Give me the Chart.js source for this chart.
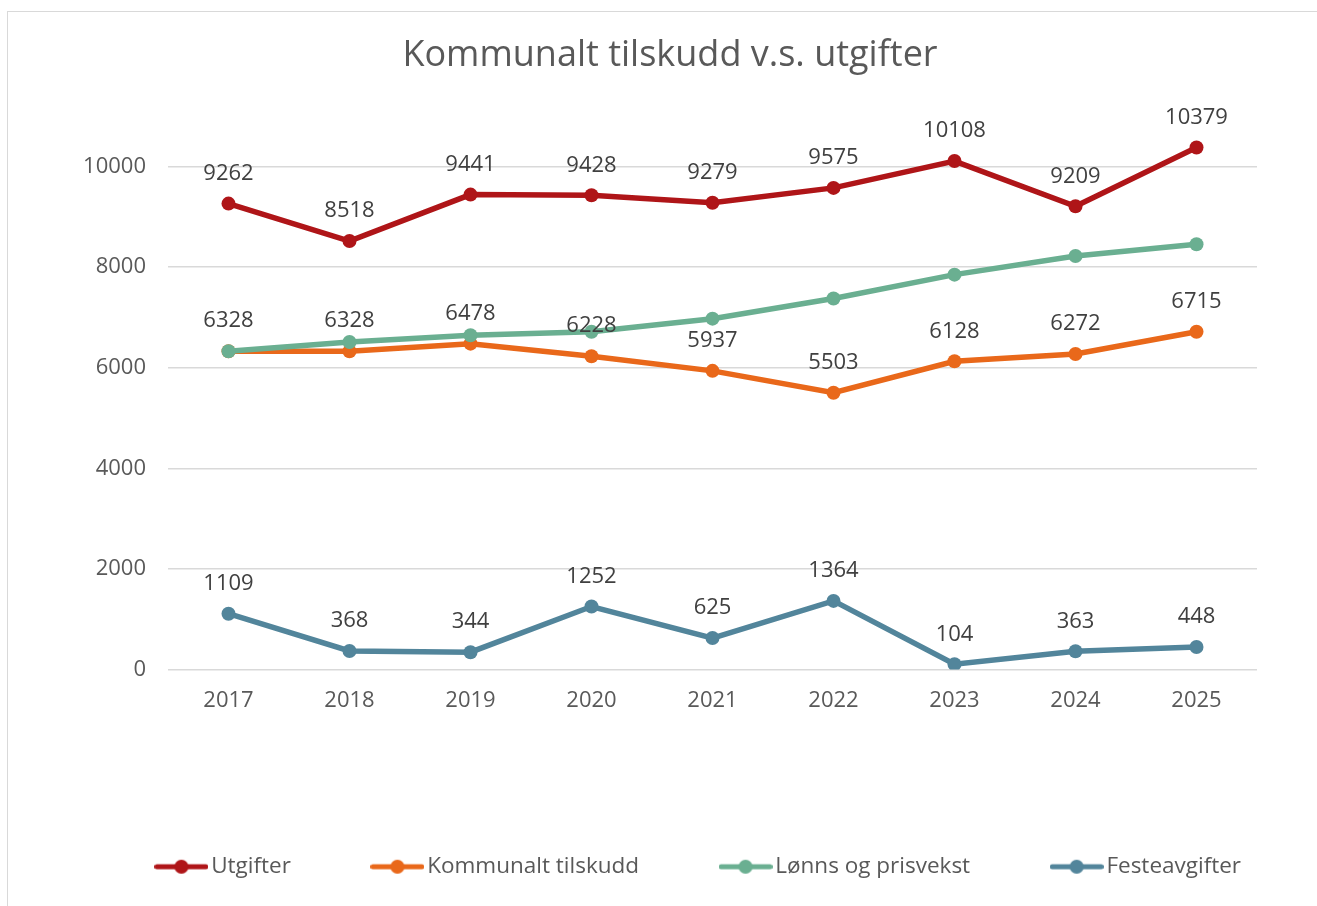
<!DOCTYPE html>
<html><head><meta charset="utf-8">
<script src="https://cdn.jsdelivr.net/npm/chart.js@4.4.1/dist/chart.umd.min.js"></script>
<style>
html,body{margin:0;padding:0;background:#fff;overflow:hidden;width:1317px;height:906px;}
#frame{position:absolute;left:7px;top:11px;width:1400px;height:1000px;border:1px solid #d9d9d9;box-sizing:border-box;}
#c{position:absolute;left:0;top:0;}
</style></head><body>
<div id="frame"></div>
<canvas id="c" width="1317" height="906"></canvas>
<script>
const years = ['2017', '2018', '2019', '2020', '2021', '2022', '2023', '2024', '2025'];
const utgifter = [9262, 8518, 9441, 9428, 9279, 9575, 10108, 9209, 10379];
const kommunaltTilskudd = [6328, 6328, 6478, 6228, 5937, 5503, 6128, 6272, 6715];
const lonnsOgPrisvekst = [6328, 6510, 6645, 6715, 6975, 7375, 7850, 8220, 8455];
const festeavgifter = [1109, 368, 344, 1252, 625, 1364, 104, 363, 448];
const yTickValues = [0, 2000, 4000, 6000, 8000, 10000];
const seriesNames = ['Utgifter', 'Kommunalt tilskudd', 'Lønns og prisvekst', 'Festeavgifter'];
const seriesColors = ['#AF1518', '#E9681A', '#6AAF91', '#52859B'];
const labelledSeries = [true, true, false, true];

const FONT = '"Open Sans", "Liberation Sans", sans-serif';
Chart.defaults.font.family = FONT;
Chart.defaults.color = '#595959';

function legendMarker(color) {
  const c = document.createElement('canvas');
  c.width = 54; c.height = 16;
  const g = c.getContext('2d');
  g.strokeStyle = color; g.lineWidth = 5; g.lineCap = 'round';
  g.beginPath(); g.moveTo(2.5, 8); g.lineTo(51.5, 8); g.stroke();
  g.fillStyle = color; g.beginPath(); g.arc(27, 8, 7, 0, Math.PI * 2); g.fill();
  return c;
}
const markers = seriesColors.map(legendMarker);

const seriesData = [utgifter, kommunaltTilskudd, lonnsOgPrisvekst, festeavgifter];
const drawOrder = [4, 3, 2, 1];

const datasets = seriesData.map((d, i) => ({
  label: seriesNames[i],
  data: d,
  borderColor: seriesColors[i],
  backgroundColor: seriesColors[i],
  pointBackgroundColor: seriesColors[i],
  pointBorderColor: seriesColors[i],
  borderWidth: 5.5,
  pointRadius: 7,
  pointBorderWidth: 0,
  pointHoverRadius: 7,
  tension: 0,
  order: drawOrder[i],
  yAxisID: 'y'
}));

const dataLabelPlugin = {
  id: 'dataLabels',
  afterDatasetsDraw(chart) {
    const ctx = chart.ctx;
    ctx.save();
    ctx.font = '22px ' + FONT;
    ctx.fillStyle = '#404040';
    ctx.textAlign = 'center';
    ctx.textBaseline = 'middle';
    chart.data.datasets.forEach((ds, i) => {
      if (!labelledSeries[i]) return;
      const meta = chart.getDatasetMeta(i);
      meta.data.forEach((pt, j) => {
        ctx.fillText(String(ds.data[j]), pt.x, pt.y - 30);
      });
    });
    ctx.restore();
  }
};

const legendShift = {
  id: 'legendShift',
  afterLayout(chart) {
    if (chart.legend) { chart.legend.left += 32; chart.legend.right += 32; }
  }
};

new Chart(document.getElementById('c'), {
  type: 'line',
  data: { labels: years, datasets },
  options: {
    responsive: false,
    animation: false,
    devicePixelRatio: 1,
    layout: { padding: { left: 23, right: 0, top: 0, bottom: 18 } },
    plugins: {
      tooltip: { enabled: false },
      title: {
        display: true,
        text: 'Kommunalt tilskudd v.s. utgifter',
        color: '#595959',
        font: { size: 36, weight: 'normal', family: FONT },
        padding: { top: 34, bottom: 39 }
      },
      legend: {
        display: true,
        position: 'bottom',
        labels: {
          usePointStyle: true,
          pointStyleWidth: 37,
          padding: 88,
          color: '#595959',
          font: { size: 22.5, family: FONT },
          sort: (a, b) => a.datasetIndex - b.datasetIndex,
          generateLabels(chart) {
            const items = Chart.defaults.plugins.legend.labels.generateLabels(chart);
            items.forEach(it => { it.pointStyle = markers[it.datasetIndex]; });
            return items;
          }
        }
      }
    },
    scales: {
      x: {
        offset: true,
        grid: { display: false, drawTicks: false },
        border: { display: false },
        ticks: { color: '#595959', font: { size: 22 }, padding: 18 },
        afterFit(scale) { scale.height = 98; }
      },
      y: {
        position: 'left',
        min: 0,
        max: 11000,
        grid: { color: '#d9d9d9', lineWidth: 1.5, drawTicks: false },
        border: { display: false },
        ticks: {
          color: '#595959', font: { size: 22 }, padding: 22,
          callback: (v) => String(v)
        },
        afterBuildTicks(scale) { scale.ticks = yTickValues.map(v => ({ value: v })); },
        afterFit(scale) { scale.width = 145; }
      },
      yR: {
        position: 'right',
        display: true,
        grid: { display: false, drawTicks: false },
        border: { display: false },
        ticks: { display: false },
        afterFit(scale) { scale.width = 60; }
      }
    }
  },
  plugins: [dataLabelPlugin, legendShift]
});
</script>
</body></html>
